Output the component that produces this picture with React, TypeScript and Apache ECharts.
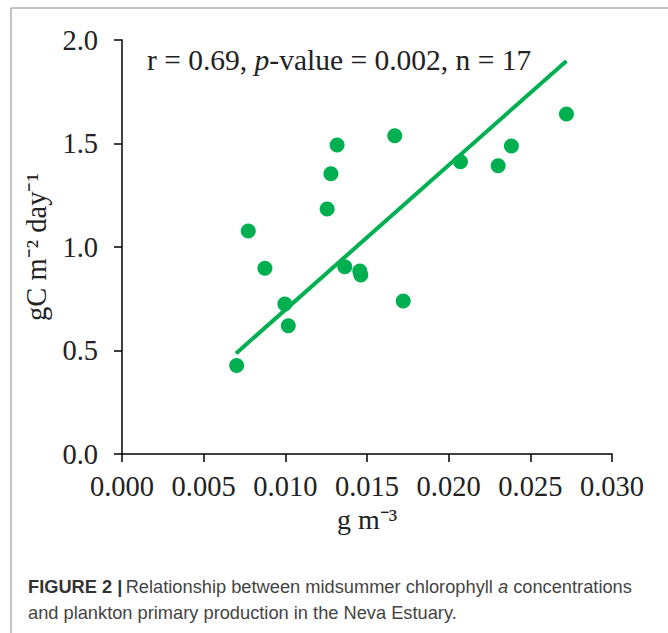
import React, { useEffect, useRef } from "react";
import * as echarts from "echarts";

const chlorophyll = [0.00702, 0.00773, 0.00875, 0.00997, 0.01018, 0.01256, 0.01279, 0.01317, 0.01364, 0.01456, 0.01462, 0.0167, 0.01722, 0.02072, 0.02303, 0.02384, 0.02721];
const production = [0.427, 1.077, 0.897, 0.725, 0.62, 1.184, 1.354, 1.493, 0.905, 0.884, 0.865, 1.538, 0.739, 1.412, 1.393, 1.488, 1.643];
const fitX = [0.00698, 0.02721];
const fitY = [0.486, 1.899];
const xTicks = ["0.000", "0.005", "0.010", "0.015", "0.020", "0.025", "0.030"];
const yTicks = ["0.0", "0.5", "1.0", "1.5", "2.0"];

const GREEN = "#00b050";
const SERIF = "'Liberation Serif', 'Times New Roman', serif";
const SANS = "'Liberation Sans', Arial, sans-serif";

export default function App() {
  const ref = useRef<HTMLDivElement>(null);
  useEffect(() => {
    const chart = echarts.init(ref.current!, null, { renderer: "svg" });
    chart.setOption({
      animation: false,
      grid: { left: 122, right: 56, top: 40, bottom: 179, containLabel: false },
      xAxis: {
        type: "value",
        min: 0,
        max: 0.03,
        interval: 0.005,
        name: "g m⁻³",
        nameLocation: "middle",
        nameGap: 50,
        nameTextStyle: { fontFamily: SERIF, fontSize: 28, color: "#222" },
        axisLine: { show: true, lineStyle: { color: "#000", width: 1.5 } },
        axisTick: { show: true, length: 8, inside: false, lineStyle: { color: "#000", width: 1.5 } },
        axisLabel: {
          margin: 18,
          fontFamily: SERIF,
          fontSize: 28.5,
          color: "#222",
          formatter: (v: number) => xTicks[Math.round(v / 0.005)] ?? "",
        },
        splitLine: { show: false },
      },
      yAxis: {
        type: "value",
        min: 0,
        max: 2,
        interval: 0.5,
        name: "gC m⁻² day⁻¹",
        nameLocation: "middle",
        nameGap: 67,
        nameTextStyle: { fontFamily: SERIF, fontSize: 28.5, color: "#222" },
        axisLine: { show: true, lineStyle: { color: "#000", width: 1.5 } },
        axisTick: { show: true, length: 8, inside: false, lineStyle: { color: "#000", width: 1.5 } },
        axisLabel: {
          margin: 24,
          fontFamily: SERIF,
          fontSize: 28.5,
          color: "#222",
          formatter: (v: number) => yTicks[Math.round(v / 0.5)] ?? "",
        },
        splitLine: { show: false },
      },
      series: [
        {
          type: "line",
          data: fitX.map((x, i) => [x, fitY[i]]),
          symbol: "none",
          lineStyle: { color: GREEN, width: 4 },
          z: 2,
        },
        {
          type: "scatter",
          data: chlorophyll.map((x, i) => [x, production[i]]),
          symbolSize: 15,
          itemStyle: { color: GREEN, opacity: 1 },
          z: 3,
        },
      ],
      graphic: [
        { type: "line", shape: { x1: 11, y1: 8, x2: 668, y2: 8 }, style: { stroke: "#888", lineWidth: 1 } },
        { type: "line", shape: { x1: 11, y1: 8, x2: 11, y2: 633 }, style: { stroke: "#888", lineWidth: 1 } },
        {
          type: "text",
          left: 147,
          top: 45,
          style: {
            text: "{n|r = 0.69, }{i|p}{n|-value = 0.002, n = 17}",
            rich: {
              n: { fontFamily: SERIF, fontSize: 29.5, fill: "#222" },
              i: { fontFamily: SERIF, fontSize: 29.5, fontStyle: "italic", fill: "#222" },
            },
          },
        },
        {
          type: "text",
          left: 28,
          top: 573,
          style: {
            text: "{b|FIGURE 2 |} {n|Relationship between midsummer chlorophyll }{i|a}{n| concentrations}\n{n|and plankton primary production in the Neva Estuary.}",
            lineHeight: 26,
            rich: {
              b: { fontFamily: SANS, fontSize: 18.25, fontWeight: "bold", fill: "#333", lineHeight: 26 },
              n: { fontFamily: SANS, fontSize: 18.25, fill: "#444", lineHeight: 26 },
              i: { fontFamily: SANS, fontSize: 18.25, fontStyle: "italic", fill: "#444", lineHeight: 26 },
            },
          },
        },
      ],
    });
    return () => chart.dispose();
  }, []);
  return <div ref={ref} style={{ position: "fixed", left: 0, top: 0, width: 668, height: 633, background: "#fff" }} />;
}
